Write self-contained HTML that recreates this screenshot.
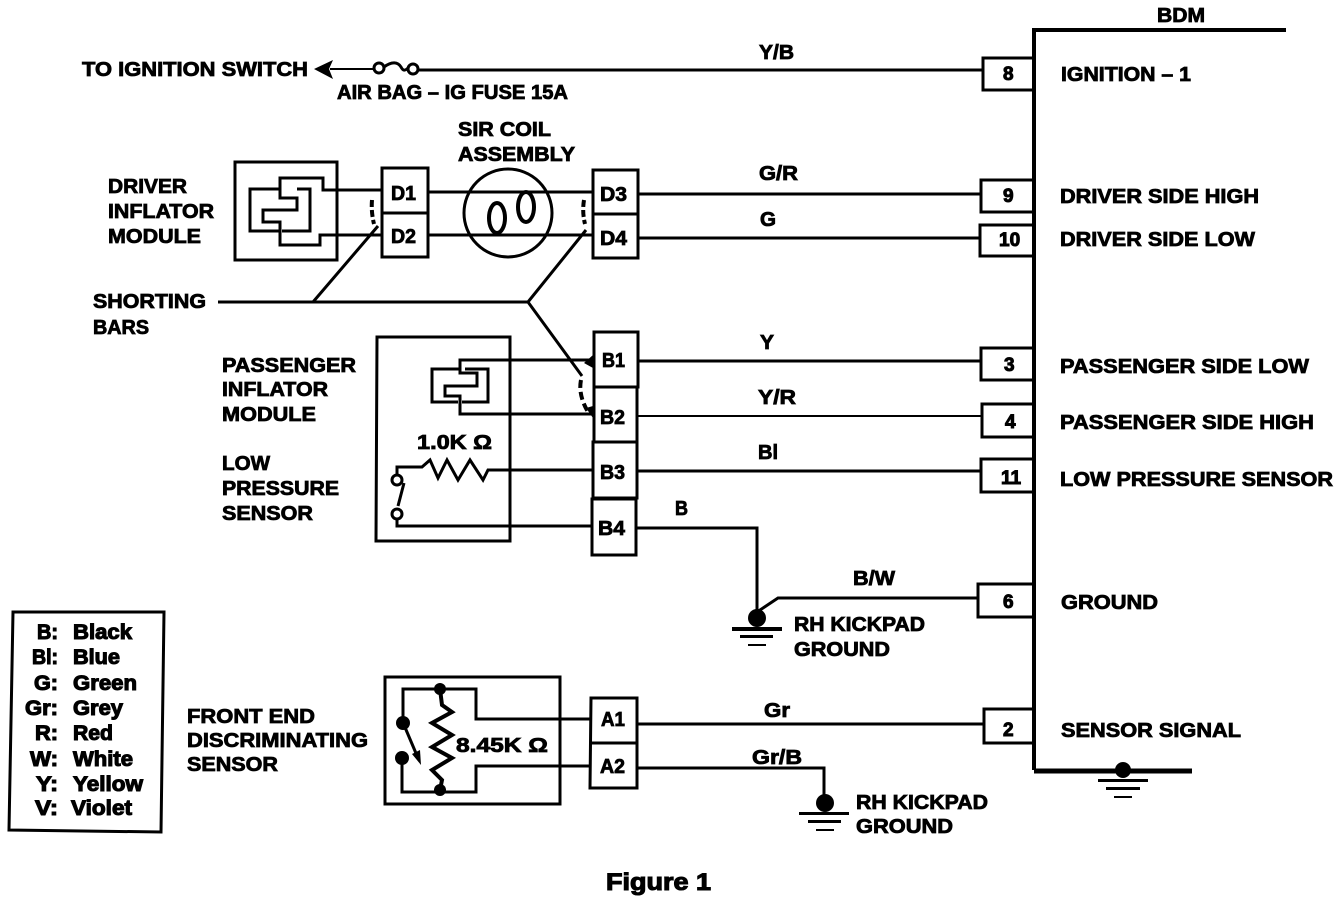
<!DOCTYPE html>
<html>
<head>
<meta charset="utf-8">
<style>
html,body{margin:0;padding:0;background:#fff;}
svg{display:block;}
text{font-family:"Liberation Sans",sans-serif;font-weight:700;font-size:20px;fill:#000;stroke:#000;stroke-width:.8;transform:translateY(-1px);}
.l{font-size:21px;stroke-width:1.1;}
.n{font-size:19px;stroke-width:1;}
.w2{fill:none;stroke:#000;stroke-width:2;}
.w3{fill:none;stroke:#000;stroke-width:3;}
.w4{fill:none;stroke:#000;stroke-width:4;}
.w5{fill:none;stroke:#000;stroke-width:5;}
.f{fill:#000;stroke:none;}
</style>
</head>
<body>
<svg width="1344" height="902" viewBox="0 0 1344 902" xmlns="http://www.w3.org/2000/svg">
<rect width="1344" height="902" fill="#fff"/>

<!-- BDM frame -->
<path class="w4" d="M1286 30H1034V770"/>
<path class="w5" d="M1034 771H1192"/>
<text x="1157" y="23" textLength="48" lengthAdjust="spacingAndGlyphs">BDM</text>

<!-- BDM pins -->
<path class="w3" d="M1033 58H983V90H1033M1033 180H981V212H1033M1033 225H980V256H1033M1033 348H981V380H1033M1033 404H982V437H1033M1033 459H981V492H1033M1033 584H978V617H1033M1033 709H984V743H1033"/>
<text class="n" x="1003" y="81">8</text>
<text class="n" x="1003" y="203">9</text>
<text class="n" x="999" y="247">10</text>
<text class="n" x="1004" y="372">3</text>
<text class="n" x="1005" y="429">4</text>
<text class="n" x="1001" y="485">11</text>
<text class="n" x="1003" y="609">6</text>
<text class="n" x="1003" y="737">2</text>

<!-- BDM labels -->
<text x="1061" y="82" textLength="130" lengthAdjust="spacingAndGlyphs">IGNITION – 1</text>
<text x="1060" y="204" textLength="199" lengthAdjust="spacingAndGlyphs">DRIVER SIDE HIGH</text>
<text x="1060" y="247" textLength="195" lengthAdjust="spacingAndGlyphs">DRIVER SIDE LOW</text>
<text x="1060" y="374" textLength="249" lengthAdjust="spacingAndGlyphs">PASSENGER SIDE LOW</text>
<text x="1060" y="430" textLength="254" lengthAdjust="spacingAndGlyphs">PASSENGER SIDE HIGH</text>
<text x="1060" y="487" textLength="273" lengthAdjust="spacingAndGlyphs">LOW PRESSURE SENSOR</text>
<text x="1061" y="610" textLength="97" lengthAdjust="spacingAndGlyphs">GROUND</text>
<text x="1061" y="738" textLength="180" lengthAdjust="spacingAndGlyphs">SENSOR SIGNAL</text>

<!-- Ignition wire -->
<path class="w3" d="M418 70H983"/>
<path class="w2" d="M330 69H374"/>
<polygon class="f" points="314,69 333,60 329,69 333,79"/>
<circle class="w3" cx="379" cy="68" r="5"/>
<circle class="w3" cx="413" cy="69" r="5"/>
<path class="w3" d="M384 67C392 61 398 62 401 67C403 71 405 71 408 68"/>
<text x="82" y="77" textLength="226" lengthAdjust="spacingAndGlyphs">TO IGNITION SWITCH</text>
<text x="337" y="100" textLength="231" lengthAdjust="spacingAndGlyphs">AIR BAG – IG FUSE 15A</text>
<text x="759" y="60" textLength="35" lengthAdjust="spacingAndGlyphs">Y/B</text>

<!-- Driver inflator -->
<text x="108" y="194" textLength="79" lengthAdjust="spacingAndGlyphs">DRIVER</text>
<text x="108" y="219" textLength="106" lengthAdjust="spacingAndGlyphs">INFLATOR</text>
<text x="108" y="244" textLength="93" lengthAdjust="spacingAndGlyphs">MODULE</text>
<rect class="w3" x="235" y="162" width="102" height="98"/>
<path class="w3" d="M382 190H323V178H280V198H297V210H263V222H280V245H320V235H382"/>
<path class="w3" d="M280 189H250V231H280M297 189H310V231H282"/>

<!-- D connectors -->
<path class="w3" d="M382 168H428V257H382ZM382 213H428M593 170H638V258H593ZM593 214H638"/>
<text x="391" y="201" textLength="25" lengthAdjust="spacingAndGlyphs">D1</text>
<text x="391" y="244" textLength="25" lengthAdjust="spacingAndGlyphs">D2</text>
<text x="600" y="202" textLength="27" lengthAdjust="spacingAndGlyphs">D3</text>
<text x="600" y="246" textLength="27" lengthAdjust="spacingAndGlyphs">D4</text>

<!-- SIR coil -->
<text x="458" y="137" textLength="93" lengthAdjust="spacingAndGlyphs">SIR COIL</text>
<text x="458" y="162" textLength="117" lengthAdjust="spacingAndGlyphs">ASSEMBLY</text>
<circle class="w3" cx="508" cy="213" r="44"/>
<ellipse class="w4" cx="497" cy="218" rx="8" ry="15"/>
<ellipse class="w4" cx="526" cy="207" rx="8" ry="15"/>
<path class="w3" d="M428 192H593M428 235H593"/>
<path class="w3" d="M638 194H981M638 238H980"/>
<text x="759" y="181" textLength="39" lengthAdjust="spacingAndGlyphs">G/R</text>
<text x="760" y="227" textLength="16" lengthAdjust="spacingAndGlyphs">G</text>

<!-- Shorting bars -->
<text x="93" y="309" textLength="113" lengthAdjust="spacingAndGlyphs">SHORTING</text>
<text x="93" y="335" textLength="56" lengthAdjust="spacingAndGlyphs">BARS</text>
<path class="w3" d="M218 302H528L586 230M313 302L378 226M528 302L582 376"/>
<path class="w4" stroke-dasharray="7 3" d="M372 200Q371 212 374 224M584 200Q582 212 585 224"/>
<path class="w4" stroke-dasharray="8 4" d="M581 380Q578 395 588 412"/>
<polygon class="f" points="593,355 593,368 584,363"/>
<polygon class="f" points="593,406 593,418 586,408"/>

<!-- Passenger inflator -->
<text x="222" y="373" textLength="134" lengthAdjust="spacingAndGlyphs">PASSENGER</text>
<text x="222" y="397" textLength="106" lengthAdjust="spacingAndGlyphs">INFLATOR</text>
<text x="222" y="422" textLength="94" lengthAdjust="spacingAndGlyphs">MODULE</text>
<text x="222" y="471" textLength="48" lengthAdjust="spacingAndGlyphs">LOW</text>
<text x="222" y="496" textLength="117" lengthAdjust="spacingAndGlyphs">PRESSURE</text>
<text x="222" y="521" textLength="91" lengthAdjust="spacingAndGlyphs">SENSOR</text>
<path class="w3" d="M377 337H510V541H376Z"/>
<path class="w3" d="M593 360H460V373H477V386H445V396H460V414H593"/>
<path class="w3" d="M460 369H432V402H458M465 369H488V402H462"/>
<text x="417" y="450" textLength="75" lengthAdjust="spacingAndGlyphs">1.0K Ω</text>
<path class="w3" d="M397 475V467H422L430 460L438 478L447 460L458 480L470 460L483 480L488 470H593"/>
<circle class="w3" cx="397" cy="480" r="5"/>
<circle class="w3" cx="397" cy="514" r="5"/>
<path class="w3" d="M404 483L398 506M397 519V526H591"/>

<!-- B connectors -->
<path class="w3" d="M594 332H638V387H594ZM594 387V442H637V387M593 442H637V498H593ZM592 499H636V555H592Z"/>
<text x="602" y="368" textLength="23" lengthAdjust="spacingAndGlyphs">B1</text>
<text x="600" y="425" textLength="25" lengthAdjust="spacingAndGlyphs">B2</text>
<text x="600" y="480" textLength="25" lengthAdjust="spacingAndGlyphs">B3</text>
<text x="598" y="536" textLength="27" lengthAdjust="spacingAndGlyphs">B4</text>
<path class="w3" d="M638 361H981"/>
<path class="w2" d="M637 416H982"/>
<path class="w3" d="M637 471H981"/>
<path class="w3" d="M636 528H757V615"/>
<text x="760" y="350" textLength="14" lengthAdjust="spacingAndGlyphs">Y</text>
<text x="758" y="405" textLength="38" lengthAdjust="spacingAndGlyphs">Y/R</text>
<text x="758" y="460" textLength="20" lengthAdjust="spacingAndGlyphs">Bl</text>
<text x="675" y="516" textLength="13" lengthAdjust="spacingAndGlyphs">B</text>

<!-- RH ground 1 -->
<path class="w3" d="M757 612L778 598H978"/>
<circle class="f" cx="757" cy="618" r="9"/>
<rect class="f" x="732" y="627" width="50" height="4"/>
<rect class="f" x="740" y="635" width="33" height="3"/>
<rect class="f" x="748" y="644" width="18" height="2"/>
<text x="853" y="586" textLength="42" lengthAdjust="spacingAndGlyphs">B/W</text>
<text x="794" y="632" textLength="131" lengthAdjust="spacingAndGlyphs">RH KICKPAD</text>
<text x="794" y="657" textLength="96" lengthAdjust="spacingAndGlyphs">GROUND</text>

<!-- BDM ground -->
<circle class="f" cx="1123" cy="770" r="8"/>
<rect class="f" x="1098" y="779" width="50" height="3"/>
<rect class="f" x="1106" y="787" width="34" height="3"/>
<rect class="f" x="1114" y="796" width="18" height="2"/>

<!-- Front end sensor -->
<text x="187" y="724" textLength="128" lengthAdjust="spacingAndGlyphs">FRONT END</text>
<text x="187" y="748" textLength="181" lengthAdjust="spacingAndGlyphs">DISCRIMINATING</text>
<text x="187" y="772" textLength="91" lengthAdjust="spacingAndGlyphs">SENSOR</text>
<path class="w3" d="M385 677H560V804H385Z"/>
<path class="w3" d="M403 723V689H476V719H590M402 758V792H476V766H590"/>
<circle class="f" cx="440" cy="689" r="6"/>
<circle class="f" cx="440" cy="790" r="6"/>
<circle class="f" cx="403" cy="723" r="7"/>
<circle class="f" cx="402" cy="758" r="7"/>
<path class="w4" d="M440 689L442 705L452 712L432 723L452 735L432 747L452 758L432 770L442 780L440 790"/>
<path class="w3" d="M404 725L418 758"/>
<polygon class="f" points="421,765 412,754 420,750"/>
<text x="456" y="753" textLength="92" lengthAdjust="spacingAndGlyphs">8.45K Ω</text>

<!-- A connectors -->
<path class="w3" d="M591 698H637V788H590ZM591 743H637"/>
<text x="601" y="727" textLength="24" lengthAdjust="spacingAndGlyphs">A1</text>
<text x="600" y="774" textLength="25" lengthAdjust="spacingAndGlyphs">A2</text>
<path class="w3" d="M637 724H984"/>
<path class="w3" d="M637 768H824V798"/>
<text x="764" y="718" textLength="26" lengthAdjust="spacingAndGlyphs">Gr</text>
<text x="752" y="765" textLength="50" lengthAdjust="spacingAndGlyphs">Gr/B</text>
<circle class="f" cx="825" cy="803" r="9"/>
<rect class="f" x="799" y="812" width="50" height="3"/>
<rect class="f" x="808" y="820" width="33" height="3"/>
<rect class="f" x="816" y="829" width="18" height="2"/>
<text x="856" y="810" textLength="132" lengthAdjust="spacingAndGlyphs">RH KICKPAD</text>
<text x="856" y="834" textLength="97" lengthAdjust="spacingAndGlyphs">GROUND</text>

<!-- Legend -->
<polygon class="w3" points="13,612 164,612 161,832 9,830"/>
<text class="l" x="37" y="640" textLength="21" lengthAdjust="spacingAndGlyphs">B:</text>
<text class="l" x="32" y="665" textLength="26" lengthAdjust="spacingAndGlyphs">Bl:</text>
<text class="l" x="34" y="691" textLength="24" lengthAdjust="spacingAndGlyphs">G:</text>
<text class="l" x="25" y="716" textLength="33" lengthAdjust="spacingAndGlyphs">Gr:</text>
<text class="l" x="35" y="741" textLength="23" lengthAdjust="spacingAndGlyphs">R:</text>
<text class="l" x="30" y="767" textLength="28" lengthAdjust="spacingAndGlyphs">W:</text>
<text class="l" x="36" y="792" textLength="22" lengthAdjust="spacingAndGlyphs">Y:</text>
<text class="l" x="35" y="816" textLength="23" lengthAdjust="spacingAndGlyphs">V:</text>
<text class="l" x="73" y="640" textLength="59" lengthAdjust="spacingAndGlyphs">Black</text>
<text class="l" x="73" y="665" textLength="47" lengthAdjust="spacingAndGlyphs">Blue</text>
<text class="l" x="73" y="691" textLength="64" lengthAdjust="spacingAndGlyphs">Green</text>
<text class="l" x="73" y="716" textLength="50" lengthAdjust="spacingAndGlyphs">Grey</text>
<text class="l" x="73" y="741" textLength="40" lengthAdjust="spacingAndGlyphs">Red</text>
<text class="l" x="73" y="767" textLength="60" lengthAdjust="spacingAndGlyphs">White</text>
<text class="l" x="73" y="792" textLength="70" lengthAdjust="spacingAndGlyphs">Yellow</text>
<text class="l" x="71" y="816" textLength="61" lengthAdjust="spacingAndGlyphs">Violet</text>

<text class="l" x="606" y="891" textLength="105" lengthAdjust="spacingAndGlyphs" style="font-size:24px">Figure 1</text>
</svg>
</body>
</html>
